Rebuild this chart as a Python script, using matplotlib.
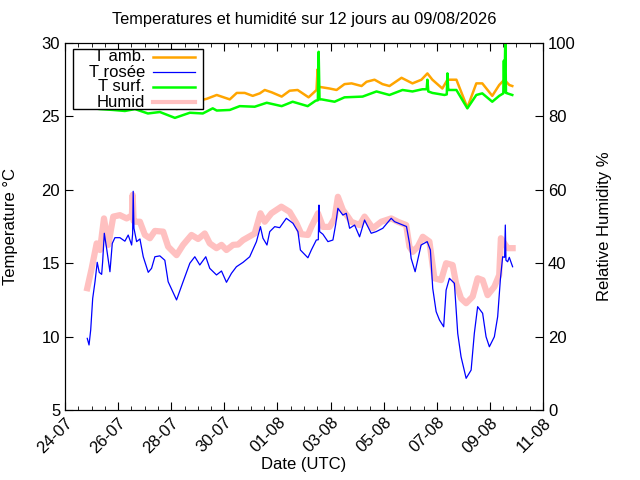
import numpy as np
import pandas as pd
import matplotlib
matplotlib.use("Agg")
import matplotlib.pyplot as plt
import matplotlib.dates as mdates
from matplotlib.patches import Rectangle
from matplotlib.lines import Line2D

plt.rcParams['font.family'] = ['Liberation Sans', 'DejaVu Sans']

start = pd.Timestamp("2026-07-24 00:00")

# hours since 24-07 00:00 and readings
amb_h = [20.8, 40.6, 58.6, 76.7, 101.1, 117.3, 128.1, 137.1, 148.9, 155.2, 162.4, 169.6,
         176.0, 180.5, 186.8, 195.8, 203.0, 210.2, 220.1, 227.3, 228.2, 229.1, 230.9, 239.1,
         245.4, 252.6, 259.0, 268.0, 272.5, 279.7, 286.9, 293.2, 304.1, 314.0, 322.1, 327.5,
         332.0, 341.0, 345.6, 353.7, 363.6, 371.7, 377.1, 386.1, 392.4, 397.0, 401.5, 404.2]
amb_t = [26.0, 26.1, 26.2, 25.9, 25.5, 26.0, 26.2, 26.46, 26.16, 26.6, 26.6, 26.4,
         26.57, 26.8, 26.64, 26.35, 26.75, 26.8, 26.3, 26.8, 28.2, 27.0, 27.0, 26.9,
         26.8, 27.2, 27.25, 27.07, 27.36, 27.5, 27.2, 27.07, 27.63, 27.25, 27.5, 27.93,
         27.5, 26.9, 27.5, 27.5, 25.6, 27.25, 27.25, 26.4, 27.14, 27.5, 27.14, 27.07]

dew_h = [20.1, 21.7, 23.2, 25.0, 27.1, 29.1, 30.9, 33.1, 34.0, 35.5, 37.6, 40.6, 42.7,
         45.1, 49.6, 54.1, 57.1, 60.2, 61.1, 61.6, 62.3, 64.7, 67.7, 70.7, 75.2, 78.2,
         81.2, 85.7, 90.2, 93.2, 100.8, 106.7, 112.8, 117.3, 121.8, 127.2, 130.8, 136.9,
         141.4, 145.9, 150.4, 154.9, 160.9, 166.9, 173.0, 176.6, 178.9, 182.5, 185.0, 189.5,
         194.0, 200.0, 206.0, 210.5, 212.7, 219.5, 222.6, 227.1, 228.9, 229.5, 230.1, 233.1,
         237.6, 242.1, 244.5, 246.6, 251.1, 254.2, 257.2, 261.7, 266.2, 270.7, 276.7, 281.2,
         287.2, 294.8, 297.8, 308.6, 311.3, 312.8, 316.4, 319.4, 321.8, 327.3, 330.2, 332.3,
         335.4, 338.4, 342.2, 344.4, 347.4, 351.9, 354.9, 357.9, 362.5, 367.0, 369.9, 372.9,
         377.4, 380.5, 383.5, 388.0, 391.0, 393.4, 395.5, 397.3, 397.9, 398.5, 400.0, 401.5,
         404.5]
dew_t = [9.88, 9.43, 10.45, 12.6, 13.74, 15.06, 14.38, 14.24, 15.1, 17.04, 16.0, 14.42, 16.35,
         16.74, 16.74, 16.5, 16.92, 16.24, 17.0, 19.9, 17.38, 16.47, 16.65, 15.44, 14.38, 14.65,
         15.44, 15.5, 15.2, 13.74, 12.5, 13.74, 15.0, 15.44, 14.88, 15.44, 14.65, 14.2,
         14.47, 13.7, 14.31, 14.76, 15.06, 15.44, 16.47, 17.49, 16.7, 16.24, 17.15, 17.49,
         17.42, 18.06, 17.72, 17.15, 15.9, 15.37, 15.9, 16.58, 16.6, 18.96, 17.15, 16.97,
         16.47, 16.58, 17.6, 18.74, 18.28, 18.4, 17.38, 17.6, 16.8, 17.94, 17.04, 17.15,
         17.38, 18.06, 17.83, 17.5, 16.35, 15.33, 14.42, 15.44, 16.24, 16.47, 15.9, 13.29,
         11.7, 11.13, 10.67, 13.17, 13.97, 13.63, 10.22, 8.63, 7.16, 7.72, 10.22, 12.04,
         11.59, 9.99, 9.31, 9.99, 11.36, 13.86, 15.44, 15.4, 17.6, 15.2, 15.1, 15.4,
         14.76]

surf_h = [20.8, 31.6, 43.3, 54.1, 63.2, 74.9, 85.7, 99.3, 112.8, 124.5, 133.5, 137.1, 148.9,
          157.9, 171.4, 182.3, 195.8, 205.7, 219.3, 226.5, 228.5, 229.2, 230.0, 231.9, 243.6,
          252.6, 268.9, 281.5, 293.2, 305.0, 314.0, 323.0, 326.8, 327.5, 328.3, 332.0, 342.9,
          345.0, 345.6, 346.3, 347.4, 353.7, 363.6, 371.7, 377.1, 386.1, 392.4, 396.1, 396.6,
          397.1, 397.9, 398.5, 399.7, 404.2]
surf_t = [25.6, 25.5, 25.44, 25.37, 25.5, 25.2, 25.3, 24.9, 25.25, 25.2, 25.55, 25.4, 25.44,
          25.7, 25.66, 25.93, 25.7, 26.0, 25.7, 26.07, 26.1, 29.4, 26.16, 26.16, 26.0,
          26.3, 26.35, 26.7, 26.46, 26.8, 26.7, 26.85, 26.85, 27.5, 26.7, 26.6, 26.46,
          26.5, 27.93, 26.8, 26.8, 26.8, 25.55, 26.46, 26.57, 26.0, 26.4, 26.57, 28.8,
          26.7, 30.3, 26.6, 26.57, 26.46]

hum_h = [20.1, 24.1, 28.6, 31.6, 35.2, 39.1, 43.6, 49.6, 55.7, 58.6, 60.4, 61.1, 62.0, 63.2,
         67.7, 72.2, 76.7, 81.2, 88.7, 93.2, 100.8, 106.7, 114.3, 120.3, 126.3, 130.8, 136.9,
         141.4, 145.9, 151.9, 156.4, 160.9, 171.4, 176.6, 180.5, 186.5, 195.5, 203.0, 209.1,
         213.6, 219.5, 222.6, 228.6, 233.1, 239.1, 243.6, 246.6, 251.1, 255.6, 258.7, 266.2,
         270.7, 278.2, 285.8, 294.8, 300.7, 308.3, 311.3, 314.3, 318.8, 323.3, 329.3, 333.8,
         339.9, 344.4, 350.3, 353.4, 357.9, 362.5, 368.4, 372.9, 377.4, 381.9, 388.0, 392.4,
         393.9, 397.0, 400.0, 404.5]
hum_v = [33.2, 38.6, 45.4, 43.6, 52.2, 45.0, 52.7, 53.1, 52.2, 52.7, 52.7, 58.6, 51.5, 51.3,
         51.3, 47.7, 46.8, 48.8, 48.6, 44.5, 42.2, 45.0, 47.7, 46.6, 48.1, 45.4, 44.1,
         45.0, 43.6, 45.0, 45.1, 46.3, 48.1, 53.6, 51.3, 53.6, 55.4, 54.0, 50.9,
         47.9, 47.7, 49.9, 53.6, 49.9, 49.9, 52.2, 58.1, 54.5, 52.7, 51.3, 50.4,
         52.7, 49.5, 51.3, 52.2, 51.3, 50.4, 44.5, 43.1, 44.5, 47.2, 45.9, 35.9,
         35.4, 40.0, 39.5, 34.5, 30.4, 29.1, 30.9, 35.9, 35.4, 31.3, 33.6, 36.8,
         46.8, 45.4, 44.1, 44.1]

title = "Temperatures et humidité sur 12 jours au 09/08/2026"
labels = ["T amb.", "T rosée", "T surf.", "Humid"]
colors = ["#ffa500", "#0000ff", "#00ff00", "#ffc0c0"]
widths = [1.8, 0.9, 1.8, 4.5]


def toDates(hours):
	return start + pd.to_timedelta(hours, unit="h")


fig = plt.figure(figsize=(6.4, 4.8), dpi=100)
ax = fig.add_axes([0.1016, 0.1458, 0.7469, 0.7646])
ax2 = ax.twinx()
ax.set_zorder(ax2.get_zorder() + 1)
ax.patch.set_visible(False)

ax2.plot(toDates(hum_h), hum_v, color=colors[3], lw=widths[3])
ax.plot(toDates(amb_h), amb_t, color=colors[0], lw=widths[0])
ax.plot(toDates(dew_h), dew_t, color=colors[1], lw=widths[1])
ax.plot(toDates(surf_h), surf_t, color=colors[2], lw=widths[2])

ax.set_xlim(start, pd.Timestamp("2026-08-11 00:00"))
ax.set_ylim(5, 30)
ax2.set_ylim(0, 100)
ax.set_yticks(np.arange(5, 31, 5))
ax2.set_yticks(np.arange(0, 101, 20))

majors = pd.date_range("2026-07-24", "2026-08-11", freq="2D")
minors = pd.date_range("2026-07-24", "2026-08-11", freq="12h")
ax.set_xticks(majors)
ax.set_xticks(minors, minor=True)
ax.xaxis.set_major_formatter(mdates.DateFormatter("%d-%m"))
for lab in ax.get_xticklabels():
	lab.set_rotation(45)
	lab.set_ha("right")
	lab.set_rotation_mode("anchor")

ax.tick_params(which="both", direction="in", top=True, labelsize=12)
ax.tick_params(axis="y", right=False)
ax.tick_params(which="major", length=6)
ax.tick_params(which="minor", length=3)
ax2.tick_params(direction="in", length=6, labelsize=12)

ax.set_xlabel("Date (UTC)", fontsize=12)
ax.xaxis.set_label_coords(0.5, -0.128)
ax.set_ylabel("Temperature °C", fontsize=12)
ax.yaxis.set_label_coords(-0.098, 0.5)
ax2.set_ylabel("Relative Humidity %", fontsize=12)
ax2.yaxis.set_label_coords(1.113, 0.5)
ax.set_title(title, fontsize=11.8, pad=14)

# gnuplot style key: labels right aligned, line sample on the right
ax.add_patch(Rectangle((0.0174, 0.8193), 0.2719, 0.1635, transform=ax.transAxes,
                       facecolor="white", edgecolor="black", lw=1.0, zorder=10, clip_on=False))
rowY = [0.9627, 0.9202, 0.881, 0.8392]
for lab, col, w, y in zip(labels, colors, widths, rowY):
	ax.text(0.1674, y - 0.0005, lab, transform=ax.transAxes, ha="right", va="center",
	        fontsize=12, zorder=11)
	ax.add_line(Line2D([0.1841, 0.272], [y, y], transform=ax.transAxes, color=col,
	                   lw=min(w, 3.0), zorder=11))

fig.savefig("out.png", dpi=100)
